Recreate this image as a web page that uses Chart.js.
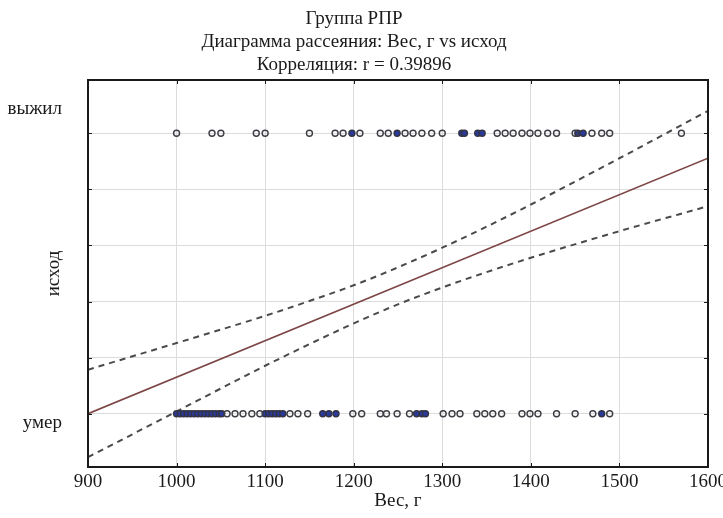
<!DOCTYPE html>
<html>
<head>
<meta charset="utf-8">
<script src="https://cdn.jsdelivr.net/npm/chart.js@4.4.1/dist/chart.umd.min.js"></script>
<style>
  html, body { margin: 0; padding: 0; background: #fff; }
  #wrap { width: 723px; height: 518px; }
</style>
</head>
<body>
<div id="wrap"><canvas id="c" width="723" height="518"></canvas></div>
<script>
// ---- Data ----
const titleLines = ["Группа РПР", "Диаграмма рассеяния: Вес, г vs исход", "Корреляция: r = 0.39896"];
const xAxisTitle = "Вес, г";
const yAxisTitle = "исход";

// outcome coding: умер = 0, выжил = 1
const survivedWeights = [1000, 1040, 1050, 1090, 1100, 1150, 1179, 1188, 1207, 1230, 1239, 1258, 1267, 1277, 1288, 1300, 1362, 1371, 1380, 1390, 1399, 1408, 1419, 1429, 1450, 1469, 1480, 1489, 1570];
const survivedWeightsOverlap = [1198, 1249, 1322, 1325, 1340, 1345, 1453, 1459];
const diedWeights = [1057, 1066, 1075, 1085, 1094, 1128, 1137, 1148, 1199, 1209, 1230, 1237, 1249, 1263, 1301, 1311, 1320, 1339, 1348, 1357, 1367, 1390, 1399, 1408, 1429, 1450, 1470, 1489];
const diedWeightsOverlap = [1000, 1004, 1008, 1012, 1016, 1020, 1024, 1028, 1032, 1036, 1040, 1044, 1048, 1051, 1100, 1104, 1108, 1112, 1116, 1120, 1165, 1172, 1180, 1271, 1277, 1281, 1480];

// regression line and 95% confidence band
const regX = [900, 1600];
const regY = [0, 0.911];
const bandX = [900, 1000, 1050, 1100, 1150, 1200, 1250, 1300, 1350, 1400, 1500, 1600];
const bandUpper = [0.157, 0.252, 0.300, 0.349, 0.402, 0.458, 0.522, 0.592, 0.667, 0.746, 0.911, 1.080];
const bandLower = [-0.155, 0.008, 0.090, 0.171, 0.248, 0.322, 0.390, 0.450, 0.505, 0.556, 0.651, 0.740];

// axes
const xMin = 900, xMax = 1600, xStep = 100;
const yMin = -0.19, yMax = 1.19;
const yGridValues = [0, 0.2, 0.4, 0.6, 0.8, 1.0];
const yCategoryPositions = [-0.032, 1.086];
const yCategoryLabels = ["умер", "выжил"];

// ---- Build ----
const pts = (xs, y) => xs.map(x => ({ x: x, y: y }));
const line = (xs, ys) => xs.map((x, i) => ({ x: x, y: ys[i] }));

const FONT = "'Liberation Serif', 'Times New Roman', serif";
const FS = 19;

const framePlugin = {
  id: 'frame',
  afterDatasetsDraw(chart) {
    const { ctx, chartArea: a, scales } = chart;
    ctx.save();
    ctx.strokeStyle = '#1a1a1a';
    ctx.lineWidth = 1;
    const xs = scales.x, ys = scales.y;
    for (let v = xMin; v <= xMax; v += xStep) {
      const px = Math.round(xs.getPixelForValue(v)) + 0.5;
      ctx.beginPath();
      ctx.moveTo(px, a.top); ctx.lineTo(px, a.top + 4);
      ctx.moveTo(px, a.bottom); ctx.lineTo(px, a.bottom - 4);
      ctx.stroke();
    }
    yGridValues.forEach(v => {
      const py = Math.round(ys.getPixelForValue(v)) + 0.5;
      ctx.beginPath();
      ctx.moveTo(a.left, py); ctx.lineTo(a.left + 4, py);
      ctx.moveTo(a.right, py); ctx.lineTo(a.right - 4, py);
      ctx.stroke();
    });
    ctx.lineWidth = 2;
    ctx.strokeRect(a.left, a.top, a.right - a.left, a.bottom - a.top);
    ctx.restore();
  }
};

const pointStyleHollow = {
  showLine: false,
  pointStyle: 'circle',
  pointRadius: 3,
  pointBorderWidth: 1.4,
  pointBorderColor: '#3d3d45',
  pointBackgroundColor: 'rgba(255,255,255,0)',
  pointHoverRadius: 3
};
const pointStyleOverlap = {
  showLine: false,
  pointStyle: 'circle',
  pointRadius: 3,
  pointBorderWidth: 1.4,
  pointBorderColor: '#333344',
  pointBackgroundColor: '#2a3a9c',
  pointHoverRadius: 3
};

new Chart(document.getElementById('c'), {
  type: 'scatter',
  data: {
    datasets: [
      Object.assign({ label: 'выжил', data: pts(survivedWeights, 1) }, pointStyleHollow),
      Object.assign({ label: 'выжил (совп.)', data: pts(survivedWeightsOverlap, 1) }, pointStyleOverlap),
      Object.assign({ label: 'умер', data: pts(diedWeights, 0) }, pointStyleHollow),
      Object.assign({ label: 'умер (совп.)', data: pts(diedWeightsOverlap, 0) }, pointStyleOverlap),
      {
        label: 'регрессия', data: line(regX, regY), showLine: true,
        borderColor: '#7d4545', borderWidth: 1.6, pointRadius: 0, fill: false
      },
      {
        label: 'верх. 95%', data: line(bandX, bandUpper), showLine: true,
        borderColor: '#4a4a4a', borderWidth: 2, borderDash: [6, 5], pointRadius: 0,
        cubicInterpolationMode: 'monotone', fill: false
      },
      {
        label: 'ниж. 95%', data: line(bandX, bandLower), showLine: true,
        borderColor: '#4a4a4a', borderWidth: 2, borderDash: [6, 5], pointRadius: 0,
        cubicInterpolationMode: 'monotone', fill: false
      }
    ]
  },
  options: {
    responsive: false,
    animation: false,
    devicePixelRatio: 1,
    layout: { padding: { left: 0, right: 15, top: 0, bottom: 0 } },
    plugins: {
      legend: { display: false },
      tooltip: { enabled: false },
      title: {
        display: true,
        text: titleLines,
        color: '#1a1a1a',
        font: { family: FONT, size: FS, weight: 'normal', lineHeight: 1.2 },
        padding: { top: 8, bottom: 3.6 }
      }
    },
    scales: {
      x: {
        type: 'linear',
        min: xMin, max: xMax,
        ticks: {
          stepSize: xStep,
          color: '#1a1a1a',
          padding: 4,
          font: { family: FONT, size: FS },
          maxRotation: 0,
          callback(v) { return String(v); }
        },
        grid: { color: '#dcdcdc', lineWidth: 1, drawTicks: false },
        border: { display: false },
        title: {
          display: true, text: xAxisTitle, color: '#1a1a1a',
          font: { family: FONT, size: FS }, padding: { top: 0, bottom: 6 }
        },
        afterFit(scale) {
          scale.height = 51;
          scale.paddingLeft = 0; scale.paddingRight = 0;
        }
      },
      y: {
        type: 'linear',
        min: yMin, max: yMax,
        afterBuildTicks(scale) {
          scale.ticks = yGridValues.concat(yCategoryPositions).map(v => ({ value: v }));
        },
        ticks: {
          color: '#1a1a1a',
          padding: 26,
          font: { family: FONT, size: FS },
          callback(v) {
            const i = yCategoryPositions.indexOf(v);
            return i >= 0 ? yCategoryLabels[i] : '';
          }
        },
        grid: {
          drawTicks: false,
          lineWidth: 1,
          color(ctx) {
            return yCategoryPositions.indexOf(ctx.tick && ctx.tick.value) >= 0 ? 'rgba(0,0,0,0)' : '#dcdcdc';
          }
        },
        border: { display: false },
        title: {
          display: true, text: yAxisTitle, color: '#1a1a1a',
          font: { family: FONT, size: FS }, padding: { top: 43, bottom: 0 }
        },
        afterFit(scale) {
          scale.width = 88;
          scale.paddingTop = 0; scale.paddingBottom = 0;
        }
      }
    }
  },
  plugins: [framePlugin]
});
</script>
</body>
</html>
